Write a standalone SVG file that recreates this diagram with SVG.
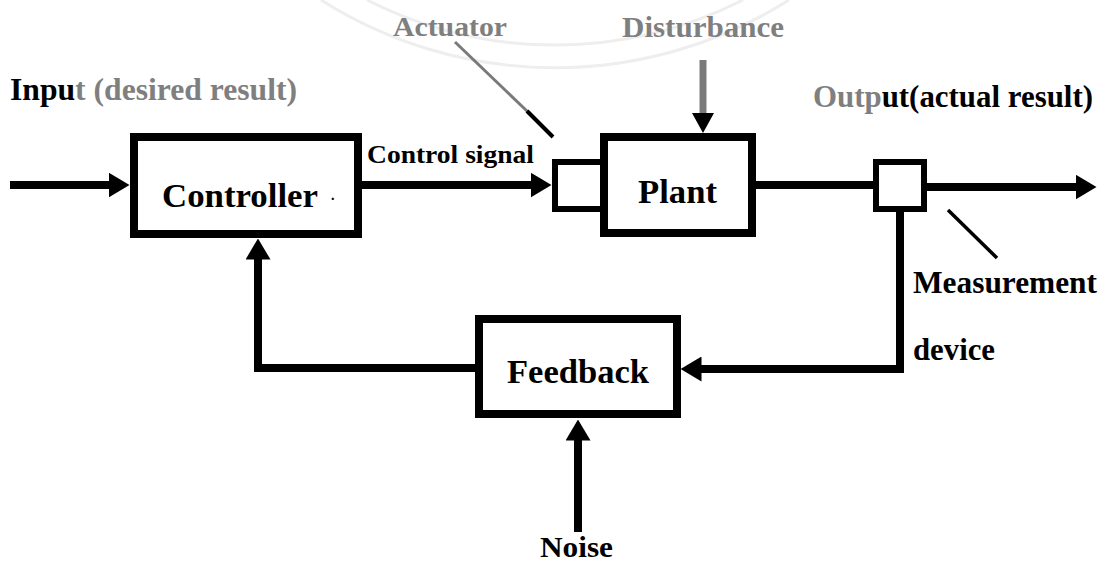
<svg xmlns="http://www.w3.org/2000/svg" width="1109" height="565" viewBox="0 0 1109 565">
  <style>
    text { font-family: "Liberation Serif", "Times New Roman", serif; font-weight: bold; fill: #000; }
    .grey { fill: #7f7f7f; }
    .box { fill: #fff; stroke: #000; stroke-width: 8; }
    .small { fill: #fff; stroke: #000; stroke-width: 6; }
    .wire { fill: none; stroke: #000; stroke-width: 8; stroke-linecap: butt; stroke-linejoin: miter; }
    .mark { fill: none; stroke: #eeeeee; stroke-width: 3; }
  </style>
  <defs>
    <marker id="head" markerUnits="userSpaceOnUse" viewBox="0 0 21 25" markerWidth="21" markerHeight="25" refX="0.5" refY="12.5" orient="auto">
      <path d="M0,0 L21,12.5 L0,25 Z" fill="#000"/>
    </marker>
  </defs>

  <rect width="1109" height="565" fill="#fff"/>

  <!-- faint emblem in the background -->
  <g id="emblem">
    <path class="mark" d="M321,0 A438,438 0 0 0 789,0"/>
    <path class="mark" d="M367,0 A415,415 0 0 0 743,0"/>
  </g>

  <!-- labels outside the blocks -->
  <g id="labels">
    <text x="10" y="100" font-size="31" textLength="287" lengthAdjust="spacingAndGlyphs">Inpu<tspan class="grey">t (desired result)</tspan></text>
    <text class="grey" x="393" y="36" font-size="28" textLength="114" lengthAdjust="spacingAndGlyphs">Actuator</text>
    <text class="grey" x="622" y="37" font-size="29" textLength="162" lengthAdjust="spacingAndGlyphs">Disturbance</text>
    <text x="813" y="107" font-size="32" textLength="280" lengthAdjust="spacingAndGlyphs"><tspan class="grey">Outp</tspan>ut(actual result)</text>
    <text x="367" y="163" font-size="26" textLength="167" lengthAdjust="spacingAndGlyphs">Control signal</text>
    <text x="913" y="293" font-size="31" textLength="184" lengthAdjust="spacingAndGlyphs">Measurement</text>
    <text x="913" y="360" font-size="31" textLength="82" lengthAdjust="spacingAndGlyphs">device</text>
    <text x="540" y="557" font-size="30" textLength="73" lengthAdjust="spacingAndGlyphs">Noise</text>
  </g>

  <!-- connectors -->
  <g id="connectors">
    <path class="wire" d="M10,185 H109" marker-end="url(#head)"/>
    <path class="wire" d="M362,185 H531" marker-end="url(#head)"/>
    <path class="wire" d="M756,185 H873"/>
    <path class="wire" d="M927,187 H1076" marker-end="url(#head)"/>
    <path class="wire" d="M900,212 V369 H701" marker-end="url(#head)"/>
    <path class="wire" d="M475,368 H258 V259" marker-end="url(#head)"/>
    <path class="wire" d="M578,532 V440" marker-end="url(#head)"/>
    <!-- disturbance: grey shaft, black head -->
    <path d="M703,60 V114" stroke="#7a7a7a" stroke-width="7" fill="none"/>
    <path d="M692,113 L714,113 L703,133 Z" fill="#000"/>
    <!-- pointer lines -->
    <path d="M455,42 L528,112" stroke="#7a7a7a" stroke-width="3" fill="none"/>
    <path d="M527,111 L553,137" stroke="#000" stroke-width="4" fill="none"/>
    <path d="M948,210 L997,258" stroke="#000" stroke-width="3.5" fill="none"/>
  </g>

  <g id="controller">
    <rect class="box" x="134" y="137" width="224" height="97"/>
    <text x="162" y="207" font-size="34" textLength="156" lengthAdjust="spacingAndGlyphs">Controller</text>
    <text x="331" y="200" font-size="14">.</text>
  </g>

  <g id="actuator">
    <rect class="small" x="555" y="162" width="48" height="47"/>
  </g>

  <g id="plant">
    <rect class="box" x="604" y="137" width="148" height="96"/>
    <text x="638" y="203" font-size="34" textLength="79" lengthAdjust="spacingAndGlyphs">Plant</text>
  </g>

  <g id="measurement">
    <rect class="small" x="876" y="162" width="48" height="47"/>
  </g>

  <g id="feedback">
    <rect class="box" x="479" y="319" width="198" height="95"/>
    <text x="507" y="383" font-size="34" textLength="142" lengthAdjust="spacingAndGlyphs">Feedback</text>
  </g>
</svg>
